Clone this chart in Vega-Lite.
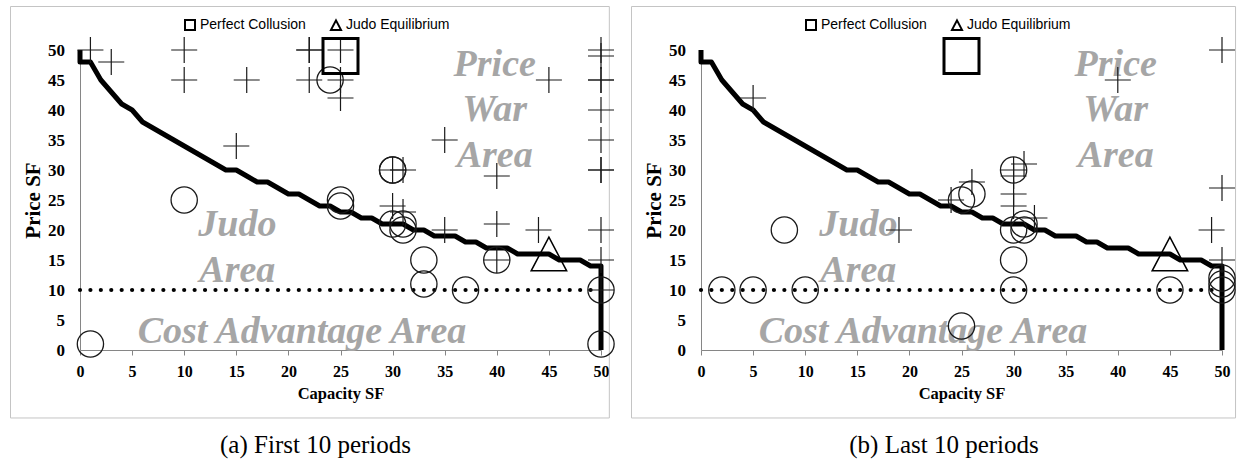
{
  "$schema": "https://vega.github.io/schema/vega-lite/v6.json",
  "background": "white",
  "padding": {"left": 9, "top": 5, "right": 0, "bottom": 0},
  "datasets": {
    "points": [
      {"panel": "a", "kind": "cross", "x": 1, "y": 50},
      {"panel": "a", "kind": "cross", "x": 3, "y": 48},
      {"panel": "a", "kind": "cross", "x": 10, "y": 50},
      {"panel": "a", "kind": "cross", "x": 10, "y": 45},
      {"panel": "a", "kind": "cross", "x": 16, "y": 45},
      {"panel": "a", "kind": "cross", "x": 15, "y": 34},
      {"panel": "a", "kind": "cross", "x": 22, "y": 50},
      {"panel": "a", "kind": "cross", "x": 22, "y": 50},
      {"panel": "a", "kind": "cross", "x": 22, "y": 45},
      {"panel": "a", "kind": "cross", "x": 25, "y": 50},
      {"panel": "a", "kind": "cross", "x": 25, "y": 45},
      {"panel": "a", "kind": "cross", "x": 25, "y": 42},
      {"panel": "a", "kind": "cross", "x": 45, "y": 45},
      {"panel": "a", "kind": "cross", "x": 35, "y": 35},
      {"panel": "a", "kind": "cross", "x": 40, "y": 29},
      {"panel": "a", "kind": "cross", "x": 30, "y": 30},
      {"panel": "a", "kind": "cross", "x": 31, "y": 30},
      {"panel": "a", "kind": "cross", "x": 30, "y": 24},
      {"panel": "a", "kind": "cross", "x": 31, "y": 23},
      {"panel": "a", "kind": "cross", "x": 35, "y": 20},
      {"panel": "a", "kind": "cross", "x": 40, "y": 21},
      {"panel": "a", "kind": "cross", "x": 40, "y": 15},
      {"panel": "a", "kind": "cross", "x": 44, "y": 20},
      {"panel": "a", "kind": "cross", "x": 50, "y": 50},
      {"panel": "a", "kind": "cross", "x": 50, "y": 49},
      {"panel": "a", "kind": "cross", "x": 50, "y": 45},
      {"panel": "a", "kind": "cross", "x": 50, "y": 45},
      {"panel": "a", "kind": "cross", "x": 50, "y": 40},
      {"panel": "a", "kind": "cross", "x": 50, "y": 35},
      {"panel": "a", "kind": "cross", "x": 50, "y": 30},
      {"panel": "a", "kind": "cross", "x": 50, "y": 30},
      {"panel": "a", "kind": "cross", "x": 50, "y": 20},
      {"panel": "a", "kind": "cross", "x": 50, "y": 15},
      {"panel": "a", "kind": "cross", "x": 50, "y": 10},
      {"panel": "a", "kind": "circle", "x": 1, "y": 1},
      {"panel": "a", "kind": "circle", "x": 10, "y": 25},
      {"panel": "a", "kind": "circle", "x": 24, "y": 45},
      {"panel": "a", "kind": "circle", "x": 30, "y": 30},
      {"panel": "a", "kind": "circle", "x": 30, "y": 30},
      {"panel": "a", "kind": "circle", "x": 25, "y": 25},
      {"panel": "a", "kind": "circle", "x": 25, "y": 24},
      {"panel": "a", "kind": "circle", "x": 30, "y": 21},
      {"panel": "a", "kind": "circle", "x": 31, "y": 21},
      {"panel": "a", "kind": "circle", "x": 31, "y": 20},
      {"panel": "a", "kind": "circle", "x": 33, "y": 15},
      {"panel": "a", "kind": "circle", "x": 33, "y": 11},
      {"panel": "a", "kind": "circle", "x": 37, "y": 10},
      {"panel": "a", "kind": "circle", "x": 40, "y": 15},
      {"panel": "a", "kind": "circle", "x": 50, "y": 10},
      {"panel": "a", "kind": "circle", "x": 50, "y": 1},
      {"panel": "b", "kind": "cross", "x": 5, "y": 42},
      {"panel": "b", "kind": "cross", "x": 40, "y": 45},
      {"panel": "b", "kind": "cross", "x": 50, "y": 50},
      {"panel": "b", "kind": "cross", "x": 50, "y": 27},
      {"panel": "b", "kind": "cross", "x": 31, "y": 31},
      {"panel": "b", "kind": "cross", "x": 30, "y": 30},
      {"panel": "b", "kind": "cross", "x": 30, "y": 29},
      {"panel": "b", "kind": "cross", "x": 30, "y": 26},
      {"panel": "b", "kind": "cross", "x": 30, "y": 24},
      {"panel": "b", "kind": "cross", "x": 26, "y": 28},
      {"panel": "b", "kind": "cross", "x": 24, "y": 25},
      {"panel": "b", "kind": "cross", "x": 32, "y": 22},
      {"panel": "b", "kind": "cross", "x": 19, "y": 20},
      {"panel": "b", "kind": "cross", "x": 49, "y": 20},
      {"panel": "b", "kind": "cross", "x": 50, "y": 15},
      {"panel": "b", "kind": "circle", "x": 2, "y": 10},
      {"panel": "b", "kind": "circle", "x": 5, "y": 10},
      {"panel": "b", "kind": "circle", "x": 10, "y": 10},
      {"panel": "b", "kind": "circle", "x": 8, "y": 20},
      {"panel": "b", "kind": "circle", "x": 25, "y": 4},
      {"panel": "b", "kind": "circle", "x": 25, "y": 25},
      {"panel": "b", "kind": "circle", "x": 26, "y": 26},
      {"panel": "b", "kind": "circle", "x": 30, "y": 30},
      {"panel": "b", "kind": "circle", "x": 30, "y": 20},
      {"panel": "b", "kind": "circle", "x": 31, "y": 21},
      {"panel": "b", "kind": "circle", "x": 31, "y": 20},
      {"panel": "b", "kind": "circle", "x": 30, "y": 15},
      {"panel": "b", "kind": "circle", "x": 30, "y": 10},
      {"panel": "b", "kind": "circle", "x": 45, "y": 10},
      {"panel": "b", "kind": "circle", "x": 50, "y": 10},
      {"panel": "b", "kind": "circle", "x": 50, "y": 11},
      {"panel": "b", "kind": "circle", "x": 50, "y": 12}
    ],
    "frontier": [
      {"i": 0, "x": 0, "y": 50}, {"i": 1, "x": 0, "y": 48}, {"i": 2, "x": 1, "y": 48},
      {"i": 3, "x": 2, "y": 45}, {"i": 4, "x": 3, "y": 43}, {"i": 5, "x": 4, "y": 41},
      {"i": 6, "x": 5, "y": 40}, {"i": 7, "x": 6, "y": 38}, {"i": 8, "x": 7, "y": 37},
      {"i": 9, "x": 8, "y": 36}, {"i": 10, "x": 9, "y": 35}, {"i": 11, "x": 10, "y": 34},
      {"i": 12, "x": 11, "y": 33}, {"i": 13, "x": 12, "y": 32}, {"i": 14, "x": 13, "y": 31},
      {"i": 15, "x": 14, "y": 30}, {"i": 16, "x": 15, "y": 30}, {"i": 17, "x": 16, "y": 29},
      {"i": 18, "x": 17, "y": 28}, {"i": 19, "x": 18, "y": 28}, {"i": 20, "x": 19, "y": 27},
      {"i": 21, "x": 20, "y": 26}, {"i": 22, "x": 21, "y": 26}, {"i": 23, "x": 22, "y": 25},
      {"i": 24, "x": 23, "y": 24}, {"i": 25, "x": 24, "y": 24}, {"i": 26, "x": 25, "y": 23},
      {"i": 27, "x": 26, "y": 23}, {"i": 28, "x": 27, "y": 22}, {"i": 29, "x": 28, "y": 22},
      {"i": 30, "x": 29, "y": 21}, {"i": 31, "x": 30, "y": 21}, {"i": 32, "x": 31, "y": 21},
      {"i": 33, "x": 32, "y": 20}, {"i": 34, "x": 33, "y": 20}, {"i": 35, "x": 34, "y": 19},
      {"i": 36, "x": 35, "y": 19}, {"i": 37, "x": 36, "y": 19}, {"i": 38, "x": 37, "y": 18},
      {"i": 39, "x": 38, "y": 18}, {"i": 40, "x": 39, "y": 17}, {"i": 41, "x": 40, "y": 17},
      {"i": 42, "x": 41, "y": 17}, {"i": 43, "x": 42, "y": 16}, {"i": 44, "x": 43, "y": 16},
      {"i": 45, "x": 44, "y": 16}, {"i": 46, "x": 45, "y": 16}, {"i": 47, "x": 46, "y": 15},
      {"i": 48, "x": 47, "y": 15}, {"i": 49, "x": 48, "y": 15}, {"i": 50, "x": 49, "y": 14},
      {"i": 51, "x": 50, "y": 14}, {"i": 52, "x": 50, "y": 0}
    ],
    "special": [
      {"type": "Perfect Collusion", "x": 25, "y": 49},
      {"type": "Judo Equilibrium", "x": 45, "y": 16}
    ],
    "labels": [
      {"text": "Price\nWar\nArea", "x": 39.8, "y": 45.7},
      {"text": "Judo\nArea", "x": 15.1, "y": 19.0},
      {"text": "Cost Advantage Area", "x": 21.3, "y": 1.2}
    ]
  },
  "spacing": 13,
  "resolve": {"scale": {"shape": "independent"}, "legend": {"shape": "independent"}},
  "hconcat": [
    {
      "width": 521,
      "height": 300,
      "title": {"text": "(a) First 10 periods", "orient": "bottom", "frame": "group", "anchor": "middle", "dx": -25, "offset": 15},
      "layer": [
        {
          "data": {"values": [{}]},
          "mark": {"type": "rect", "fill": "transparent", "stroke": "#c4c4c4", "strokeWidth": 1},
          "encoding": {
            "x": {"datum": -6.67, "type": "quantitative", "scale": {"domain": [0, 50], "nice": false, "zero": false}},
            "x2": {"datum": 50.8},
            "y": {"datum": -11.33, "type": "quantitative", "scale": {"domain": [0, 50], "nice": false, "zero": false}},
            "y2": {"datum": 57.25}
          }
        },
        {
          "data": {"values": [{}]},
          "mark": {"type": "rule", "color": "black", "strokeWidth": 4.2, "strokeCap": "round", "strokeDash": [0.01, 10.41]},
          "encoding": {
            "x": {"datum": 0, "type": "quantitative", "scale": {"domain": [0, 50], "nice": false, "zero": false}},
            "x2": {"datum": 50},
            "y": {"datum": 10, "type": "quantitative", "scale": {"domain": [0, 50], "nice": false, "zero": false}}
          }
        },
        {
          "data": {"name": "labels"},
          "mark": {"type": "text", "font": "Liberation Serif", "fontSize": 38, "fontWeight": "bold", "fontStyle": "italic", "color": "#a6a6a6", "align": "center", "baseline": "alphabetic", "lineBreak": "\n", "lineHeight": 45.5},
          "encoding": {
            "x": {"field": "x", "type": "quantitative", "scale": {"domain": [0, 50], "nice": false, "zero": false}, "title": "Capacity SF",
              "axis": {"labelFont": "Liberation Serif", "labelFontSize": 16, "labelFontWeight": "bold", "labelColor": "black", "labelPadding": 8, "labelOverlap": false, "labelFlush": false, "tickSize": 5, "tickColor": "#868686", "domainColor": "#868686", "titleFont": "Liberation Serif", "titleFontSize": 16.5, "titleFontWeight": "bold", "titleColor": "black", "titlePadding": 6}},
            "y": {"field": "y", "type": "quantitative", "scale": {"domain": [0, 50], "nice": false, "zero": false}, "title": "Price SF",
              "axis": {"labelFont": "Liberation Serif", "labelFontSize": 17, "labelFontWeight": "bold", "labelColor": "black", "labelPadding": 15.5, "labelOverlap": false, "labelFlush": false, "ticks": false, "tickSize": 0, "domainColor": "#868686", "titleFont": "Liberation Serif", "titleFontSize": 21, "titleFontWeight": "bold", "titleColor": "black", "titlePadding": 4}},
            "text": {"field": "text"}
          }
        },
        {
          "data": {"name": "frontier"},
          "mark": {"type": "line", "color": "black", "strokeWidth": 5, "strokeJoin": "round"},
          "encoding": {
            "x": {"field": "x", "type": "quantitative", "scale": {"domain": [0, 50], "nice": false, "zero": false}, "title": "Capacity SF"},
            "y": {"field": "y", "type": "quantitative", "scale": {"domain": [0, 50], "nice": false, "zero": false}, "title": "Price SF"},
            "order": {"field": "i", "type": "quantitative"}
          }
        },
        {
          "data": {"name": "points"},
          "transform": [{"filter": "datum.panel == 'a' && datum.kind == 'circle'"}],
          "mark": {"type": "point", "shape": "circle", "size": 690, "filled": false, "stroke": "#1a1a1a", "strokeWidth": 1.3, "opacity": 1},
          "encoding": {
            "x": {"field": "x", "type": "quantitative", "scale": {"domain": [0, 50], "nice": false, "zero": false}, "title": "Capacity SF"},
            "y": {"field": "y", "type": "quantitative", "scale": {"domain": [0, 50], "nice": false, "zero": false}, "title": "Price SF"}
          }
        },
        {
          "data": {"name": "points"},
          "transform": [{"filter": "datum.panel == 'a' && datum.kind == 'cross'"}],
          "mark": {"type": "point", "shape": "M-1,0L1,0M0,-1L0,1", "size": 676, "filled": false, "stroke": "#1a1a1a", "strokeWidth": 1.2, "opacity": 1},
          "encoding": {
            "x": {"field": "x", "type": "quantitative", "scale": {"domain": [0, 50], "nice": false, "zero": false}, "title": "Capacity SF"},
            "y": {"field": "y", "type": "quantitative", "scale": {"domain": [0, 50], "nice": false, "zero": false}, "title": "Price SF"}
          }
        },
        {
          "data": {"name": "special"},
          "mark": {"type": "point", "size": 1260, "filled": false, "stroke": "black", "strokeWidth": 1.5, "opacity": 1},
          "encoding": {
            "x": {"field": "x", "type": "quantitative", "scale": {"domain": [0, 50], "nice": false, "zero": false}, "title": "Capacity SF"},
            "y": {"field": "y", "type": "quantitative", "scale": {"domain": [0, 50], "nice": false, "zero": false}, "title": "Price SF"},
            "shape": {
              "field": "type", "type": "nominal",
              "scale": {"domain": ["Perfect Collusion", "Judo Equilibrium"], "range": ["square", "M0,-0.95L1,0.95L-1,0.95Z"]},
              "legend": {"orient": "none", "legendX": 103, "legendY": -32, "direction": "horizontal", "title": null, "columnPadding": 21}
            }
          }
        },
        {
          "data": {"name": "special"},
          "transform": [{"filter": "datum.type == 'Perfect Collusion'"}],
          "mark": {"type": "point", "shape": "square", "size": 1225, "filled": false, "stroke": "black", "strokeWidth": 3, "opacity": 1},
          "encoding": {
            "x": {"field": "x", "type": "quantitative", "scale": {"domain": [0, 50], "nice": false, "zero": false}, "title": "Capacity SF"},
            "y": {"field": "y", "type": "quantitative", "scale": {"domain": [0, 50], "nice": false, "zero": false}, "title": "Price SF"}
          }
        }
      ]
    },
    {
      "width": 521,
      "height": 300,
      "title": {"text": "(b) Last 10 periods", "orient": "bottom", "frame": "group", "anchor": "middle", "dx": -17.5, "offset": 15},
      "layer": [
        {
          "data": {"values": [{}]},
          "mark": {"type": "rect", "fill": "transparent", "stroke": "#c4c4c4", "strokeWidth": 1},
          "encoding": {
            "x": {"datum": -6.67, "type": "quantitative", "scale": {"domain": [0, 50], "nice": false, "zero": false}},
            "x2": {"datum": 51.3},
            "y": {"datum": -11.33, "type": "quantitative", "scale": {"domain": [0, 50], "nice": false, "zero": false}},
            "y2": {"datum": 57.25}
          }
        },
        {
          "data": {"values": [{}]},
          "mark": {"type": "rule", "color": "black", "strokeWidth": 4.2, "strokeCap": "round", "strokeDash": [0.01, 10.41]},
          "encoding": {
            "x": {"datum": 0, "type": "quantitative", "scale": {"domain": [0, 50], "nice": false, "zero": false}},
            "x2": {"datum": 50},
            "y": {"datum": 10, "type": "quantitative", "scale": {"domain": [0, 50], "nice": false, "zero": false}}
          }
        },
        {
          "data": {"name": "labels"},
          "mark": {"type": "text", "font": "Liberation Serif", "fontSize": 38, "fontWeight": "bold", "fontStyle": "italic", "color": "#a6a6a6", "align": "center", "baseline": "alphabetic", "lineBreak": "\n", "lineHeight": 45.5},
          "encoding": {
            "x": {"field": "x", "type": "quantitative", "scale": {"domain": [0, 50], "nice": false, "zero": false}, "title": "Capacity SF",
              "axis": {"labelFont": "Liberation Serif", "labelFontSize": 16, "labelFontWeight": "bold", "labelColor": "black", "labelPadding": 8, "labelOverlap": false, "labelFlush": false, "tickSize": 5, "tickColor": "#868686", "domainColor": "#868686", "titleFont": "Liberation Serif", "titleFontSize": 16.5, "titleFontWeight": "bold", "titleColor": "black", "titlePadding": 6}},
            "y": {"field": "y", "type": "quantitative", "scale": {"domain": [0, 50], "nice": false, "zero": false}, "title": "Price SF",
              "axis": {"labelFont": "Liberation Serif", "labelFontSize": 17, "labelFontWeight": "bold", "labelColor": "black", "labelPadding": 15.5, "labelOverlap": false, "labelFlush": false, "ticks": false, "tickSize": 0, "domainColor": "#868686", "titleFont": "Liberation Serif", "titleFontSize": 21, "titleFontWeight": "bold", "titleColor": "black", "titlePadding": 4}},
            "text": {"field": "text"}
          }
        },
        {
          "data": {"name": "frontier"},
          "mark": {"type": "line", "color": "black", "strokeWidth": 5, "strokeJoin": "round"},
          "encoding": {
            "x": {"field": "x", "type": "quantitative", "scale": {"domain": [0, 50], "nice": false, "zero": false}, "title": "Capacity SF"},
            "y": {"field": "y", "type": "quantitative", "scale": {"domain": [0, 50], "nice": false, "zero": false}, "title": "Price SF"},
            "order": {"field": "i", "type": "quantitative"}
          }
        },
        {
          "data": {"name": "points"},
          "transform": [{"filter": "datum.panel == 'b' && datum.kind == 'circle'"}],
          "mark": {"type": "point", "shape": "circle", "size": 690, "filled": false, "stroke": "#1a1a1a", "strokeWidth": 1.3, "opacity": 1},
          "encoding": {
            "x": {"field": "x", "type": "quantitative", "scale": {"domain": [0, 50], "nice": false, "zero": false}, "title": "Capacity SF"},
            "y": {"field": "y", "type": "quantitative", "scale": {"domain": [0, 50], "nice": false, "zero": false}, "title": "Price SF"}
          }
        },
        {
          "data": {"name": "points"},
          "transform": [{"filter": "datum.panel == 'b' && datum.kind == 'cross'"}],
          "mark": {"type": "point", "shape": "M-1,0L1,0M0,-1L0,1", "size": 676, "filled": false, "stroke": "#1a1a1a", "strokeWidth": 1.2, "opacity": 1},
          "encoding": {
            "x": {"field": "x", "type": "quantitative", "scale": {"domain": [0, 50], "nice": false, "zero": false}, "title": "Capacity SF"},
            "y": {"field": "y", "type": "quantitative", "scale": {"domain": [0, 50], "nice": false, "zero": false}, "title": "Price SF"}
          }
        },
        {
          "data": {"name": "special"},
          "mark": {"type": "point", "size": 1260, "filled": false, "stroke": "black", "strokeWidth": 1.5, "opacity": 1},
          "encoding": {
            "x": {"field": "x", "type": "quantitative", "scale": {"domain": [0, 50], "nice": false, "zero": false}, "title": "Capacity SF"},
            "y": {"field": "y", "type": "quantitative", "scale": {"domain": [0, 50], "nice": false, "zero": false}, "title": "Price SF"},
            "shape": {
              "field": "type", "type": "nominal",
              "scale": {"domain": ["Perfect Collusion", "Judo Equilibrium"], "range": ["square", "M0,-0.95L1,0.95L-1,0.95Z"]},
              "legend": {"orient": "none", "legendX": 103, "legendY": -32, "direction": "horizontal", "title": null, "columnPadding": 21}
            }
          }
        },
        {
          "data": {"name": "special"},
          "transform": [{"filter": "datum.type == 'Perfect Collusion'"}],
          "mark": {"type": "point", "shape": "square", "size": 1225, "filled": false, "stroke": "black", "strokeWidth": 3, "opacity": 1},
          "encoding": {
            "x": {"field": "x", "type": "quantitative", "scale": {"domain": [0, 50], "nice": false, "zero": false}, "title": "Capacity SF"},
            "y": {"field": "y", "type": "quantitative", "scale": {"domain": [0, 50], "nice": false, "zero": false}, "title": "Price SF"}
          }
        }
      ]
    }
  ],
  "config": {
    "view": {"stroke": null},
    "title": {"font": "Liberation Serif", "fontSize": 25, "fontWeight": "normal", "color": "black"},
    "axis": {
      "grid": false,
      "domainColor": "#868686",
      "domainWidth": 1,
      "labelFont": "Liberation Serif",
      "labelFontSize": 16,
      "labelFontWeight": "bold",
      "labelColor": "black",
      "labelFlush": false,
      "labelOverlap": false,
      "tickCount": 10,
      "titleFont": "Liberation Serif",
      "titleFontWeight": "bold",
      "titleColor": "black"
    },
    "legend": {
      "symbolSize": 100,
      "symbolStrokeWidth": 2,
      "symbolStrokeColor": "black",
      "labelFont": "Liberation Sans",
      "labelFontSize": 14,
      "labelColor": "black",
      "labelOffset": 3,
      "columnPadding": 21,
      "padding": 0
    }
  }
}
